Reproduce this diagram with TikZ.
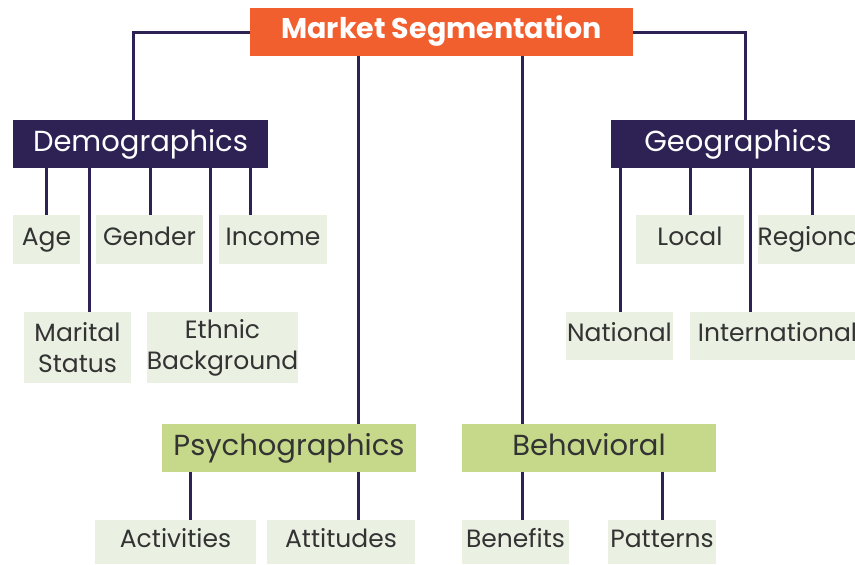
\documentclass[tikz,border=0pt]{standalone}
\usepackage{fontspec}
\setmainfont{Poppins}
\definecolor{segorange}{HTML}{F15F2E}
\definecolor{segpurple}{HTML}{2E2255}
\definecolor{seggreen}{HTML}{C6D98A}
\definecolor{segpale}{HTML}{EAF0E2}
\definecolor{segtext}{HTML}{333333}

\begin{document}
\begin{tikzpicture}[x=1pt,y=-1pt,
    link/.style={draw=segpurple, line width=3pt},
    topbox/.style={fill=segorange, text=white, inner sep=0pt,
        text height=20pt, text depth=7pt,
        font=\bfseries\fontsize{28.5}{30}\selectfont},
    headbox/.style={fill=segpurple, text=white, inner sep=0pt,
        text height=20.5pt, text depth=6pt,
        minimum height=48pt, font=\fontsize{29}{32}\selectfont},
    subbox/.style={fill=seggreen, text=segtext, inner sep=0pt,
        text height=20.5pt, text depth=6pt,
        minimum width=254pt, minimum height=48pt, font=\fontsize{29}{32}\selectfont},
    leaf/.style={fill=segpale, text=segtext, inner sep=0pt,
        text height=17.5pt, text depth=6.5pt,
        minimum height=49pt, font=\fontsize{25}{31}\selectfont},
    leaftwo/.style={fill=segpale, text=segtext, inner sep=0pt, align=center,
        minimum height=71pt, font=\fontsize{25}{31}\selectfont}]
\useasboundingbox (0,0) rectangle (855,565);
\clip (0,0) rectangle (855,565);

% main boxes
\node[topbox, minimum width=383pt, minimum height=48pt] (ms) at (441.5,32) {Market Segmentation};
\node[headbox, minimum width=255pt] (dem) at (140.5,144) {Demographics};
\node[headbox, minimum width=254pt] (geo) at (738,144) {Geographics};
\node[subbox] (psy) at (289,448) {Psychographics};
\node[subbox] (beh) at (589,448) {Behavioral};

% demographics
\node[leaf, minimum width=67pt] (age) at (46.5,239.5) {Age};
\node[leaf, minimum width=107pt] (gen) at (149.5,239.5) {Gender};
\node[leaf, minimum width=108pt] (inc) at (273,239.5) {Income};
\node[leaftwo, minimum width=107pt] (mar) at (77.5,347.5) {Marital\\Status};
\node[leaftwo, minimum width=149pt] (eth) at (222.5,347.5) {Ethnic\\Background};

% geographics
\node[leaf, minimum width=108pt] (loc) at (690,239.5) {Local};
\node[leaf, minimum width=108pt] (reg) at (812,239.5) {Regional};
\node[leaf, minimum width=107pt, minimum height=48pt] (nat) at (619.5,336) {National};
\node[leaf, minimum width=175pt, minimum height=48pt] (int) at (777.5,336) {International};

% psychographics and behavioral
\node[leaf, minimum width=161pt, minimum height=44pt] (act) at (175.5,542) {Activities};
\node[leaf, minimum width=148pt, minimum height=44pt] (att) at (341,542) {Attitudes};
\node[leaf, minimum width=107pt, minimum height=44pt] (ben) at (515.5,542) {Benefits};
\node[leaf, minimum width=108pt, minimum height=44pt] (pat) at (662,542) {Patterns};

\draw[link] (ms.west) -| (dem.north -| 133,0);
\draw[link] (ms.east) -| (geo.north -| 745,0);
\draw[link] (ms.south -| 358,0) -- (psy.north -| 358,0);
\draw[link] (ms.south -| 522,0) -- (beh.north -| 522,0);

\foreach \n/\x in {age/46, mar/89, gen/150, eth/210, inc/250}
    \draw[link] (dem.south -| \x,0) -- (\n.north -| \x,0);
\foreach \n/\x in {nat/620, loc/690, int/750, reg/812}
    \draw[link] (geo.south -| \x,0) -- (\n.north -| \x,0);
\foreach \n/\x in {act/190, att/358}
    \draw[link] (psy.south -| \x,0) -- (\n.north -| \x,0);
\foreach \n/\x in {ben/522, pat/662}
    \draw[link] (beh.south -| \x,0) -- (\n.north -| \x,0);

\end{tikzpicture}
\end{document}
